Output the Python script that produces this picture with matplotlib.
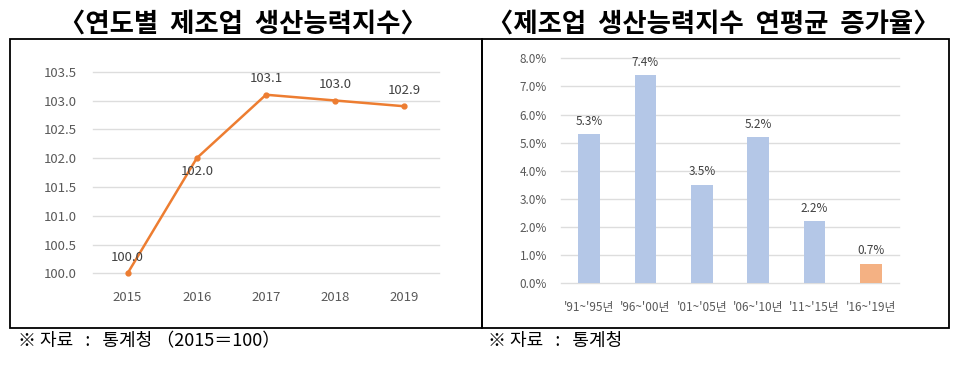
import matplotlib
matplotlib.use("Agg")
import matplotlib.pyplot as plt
from matplotlib.patches import Rectangle

plt.rcParams["font.family"] = ["Noto Sans CJK KR", "DejaVu Sans"]

# left chart: yearly index
years = ["2015", "2016", "2017", "2018", "2019"]
index_values = [100.0, 102.0, 103.1, 103.0, 102.9]

# right chart: average annual growth
periods = ["'91~'95년", "'96~'00년", "'01~'05년", "'06~'10년", "'11~'15년", "'16~'19년"]
growth = [5.3, 7.4, 3.5, 5.2, 2.2, 0.7]

W, H = 961, 366
fig = plt.figure(figsize=(W / 100, H / 100), dpi=100)
fig.patch.set_facecolor("white")


def px_axes(x0, y0, x1, y1):
    # pixel box (top-left origin) -> figure axes
    return fig.add_axes([x0 / W, 1 - y1 / H, (x1 - x0) / W, (y1 - y0) / H])


# outer boxes
for x0, x1 in [(10, 482), (482, 949)]:
    fig.patches.append(Rectangle((x0 / W, 1 - 328 / H), (x1 - x0) / W, (328 - 39) / H,
                                 transform=fig.transFigure, fill=False,
                                 edgecolor="black", linewidth=1.3))

grey = "#595959"
grid = "#DDDDDD"

# ---- left line chart
ax1 = px_axes(93, 71.7, 439, 273.3)
x = range(len(years))
ax1.plot(x, index_values, color="#ED7D31", linewidth=1.8, marker="o",
         markersize=3.5, clip_on=False, zorder=3)
ax1.set_xlim(-0.5, 4.5)
ax1.set_ylim(100, 103.5)
ax1.set_yticks([100 + 0.5 * i for i in range(8)])
ax1.set_yticklabels([f"{100 + 0.5 * i:.1f}" for i in range(8)])
ax1.set_xticks(list(x))
ax1.set_xticklabels(years)
ax1.grid(axis="y", color=grid, linewidth=1)
for gl in ax1.get_ygridlines():
    gl.set_clip_on(False)
ax1.set_axisbelow(True)
for s in ax1.spines.values():
    s.set_visible(False)
ax1.tick_params(length=0, colors=grey, labelsize=9.5)
ax1.tick_params(axis="y", pad=12)
ax1.tick_params(axis="x", pad=13)
for i, v in enumerate(index_values):
    off = -13 if i == 1 else 16
    ax1.annotate(f"{v:.1f}", (i, v), xytext=(0, off), textcoords="offset pixels",
                 ha="center", va="center", color="#404040", fontsize=9.5)

# ---- right bar chart
ax2 = px_axes(561, 58.3, 899, 283.3)
xb = range(len(periods))
colors = ["#B4C7E7"] * (len(periods) - 1) + ["#F4B183"]
ax2.bar(xb, growth, width=0.39, color=colors, zorder=3)
ax2.set_xlim(-0.5, len(periods) - 0.5)
ax2.set_ylim(0, 8)
ax2.set_yticks(range(9))
ax2.set_yticklabels([f"{i:.1f}%" for i in range(9)])
ax2.set_xticks(list(xb))
ax2.set_xticklabels(periods)
ax2.grid(axis="y", color=grid, linewidth=1)
for gl in ax2.get_ygridlines():
    gl.set_clip_on(False)
ax2.set_axisbelow(True)
for s in ax2.spines.values():
    s.set_visible(False)
ax2.tick_params(length=0, colors=grey, labelsize=8.5)
ax2.tick_params(axis="y", pad=10)
ax2.tick_params(axis="x", pad=13)
for i, v in enumerate(growth):
    ax2.annotate(f"{v:.1f}%", (i, v), xytext=(0, 13), textcoords="offset pixels",
                 ha="center", va="center", color="#404040", fontsize=8.5)

# titles
fig.text(243 / W, 1 - 24 / H, "〈연도별  제조업  생산능력지수〉", ha="center", va="center",
         fontsize=19, fontweight="bold")
fig.text(713 / W, 1 - 24 / H, "〈제조업  생산능력지수  연평균  증가율〉", ha="center", va="center",
         fontsize=19, fontweight="bold")

# footnotes
fig.text(18 / W, 1 - 341 / H, "※ 자료   :   통계청 （2015＝100）", ha="left", va="center", fontsize=13)
fig.text(488 / W, 1 - 341 / H, "※ 자료   :   통계청", ha="left", va="center", fontsize=13)

fig.savefig("out.png", dpi=100)
